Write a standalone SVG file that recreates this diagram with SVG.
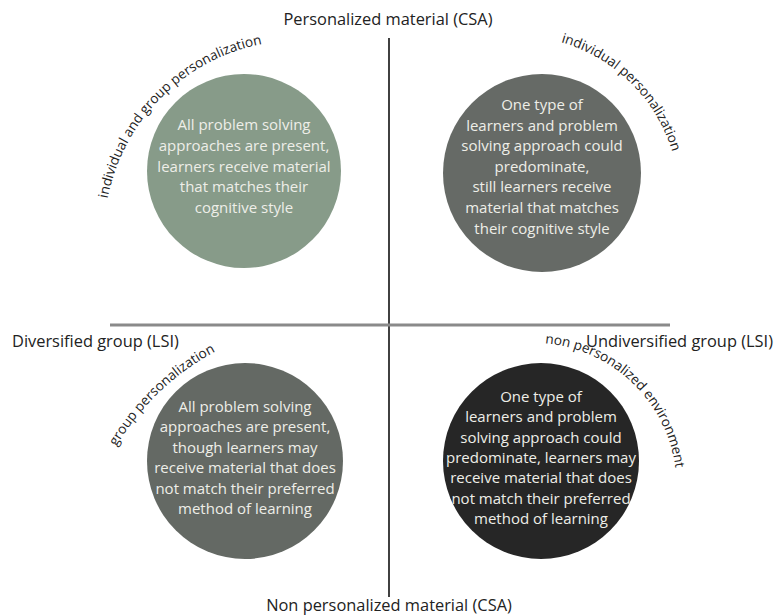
<svg xmlns="http://www.w3.org/2000/svg" width="775" height="616" viewBox="0 0 775 616">
<style>
  .axis-label { font-family: "Open Sans", Lato, sans-serif; font-size: 16.4px; fill: #222; }
  .arc-label { font-family: "Open Sans", Lato, sans-serif; font-size: 13.6px; fill: #222; }
  .inner { font-family: "Open Sans", Lato, sans-serif; font-size: 15px; fill: #eeeee8; text-anchor: middle; }
</style>
<defs>
  <path id="arcTL" d="M 107.6 198.6 A 196 196 0 0 1 290 40.5" fill="none"/>
  <path id="arcTR" d="M 561 42.2 A 163 163 0 0 1 678 180" fill="none"/>
  <path id="arcBL" d="M 116.2 446.5 A 255 255 0 0 1 240 340" fill="none"/>
  <path id="arcBR" d="M 545 343.3 A 144 144 0 0 1 676 500" fill="none"/>
</defs>
<rect width="775" height="616" fill="#ffffff"/>
<g id="connectors">
  <line x1="389" y1="38" x2="389" y2="597" stroke="#111" stroke-width="1.6"/>
  <line x1="110" y1="325" x2="670" y2="325" stroke="#8a8a8a" stroke-width="3"/>
</g>
<g id="axis-labels">
  <text class="axis-label" x="388" y="25" text-anchor="middle">Personalized material (CSA)</text>
  <text class="axis-label" x="389" y="611" text-anchor="middle">Non personalized material (CSA)</text>
  <text class="axis-label" x="12" y="347">Diversified group (LSI)</text>
  <text class="axis-label" x="773" y="347" text-anchor="end">Undiversified group (LSI)</text>
</g>
<g id="node-tl">
  <circle cx="244" cy="171" r="97" fill="#879b89"/>
  <text class="inner"><tspan x="244" y="130">All problem solving</tspan><tspan x="244" y="150.8">approaches are present,</tspan><tspan x="244" y="171.6">learners receive material</tspan><tspan x="244" y="192.4">that matches their</tspan><tspan x="244" y="213.2">cognitive style</tspan></text>
  <text class="arc-label"><textPath href="#arcTL">individual and group personalization</textPath></text>
</g>
<g id="node-tr">
  <circle cx="542" cy="173" r="99" fill="#666a66"/>
  <text class="inner"><tspan x="542" y="110">One type of</tspan><tspan x="542" y="130.6">learners and problem</tspan><tspan x="542" y="151.2">solving approach could</tspan><tspan x="542" y="171.8">predominate,</tspan><tspan x="542" y="192.4">still learners receive</tspan><tspan x="542" y="213">material that matches</tspan><tspan x="542" y="233.6">their cognitive style</tspan></text>
  <text class="arc-label"><textPath href="#arcTR">individual personalization</textPath></text>
</g>
<g id="node-bl">
  <circle cx="245" cy="461" r="98" fill="#646964"/>
  <text class="inner"><tspan x="245" y="411.5">All problem solving</tspan><tspan x="245" y="432">approaches are present,</tspan><tspan x="245" y="452.5">though learners may</tspan><tspan x="245" y="473">receive material that does</tspan><tspan x="245" y="493.5">not match their preferred</tspan><tspan x="245" y="514">method of learning</tspan></text>
  <text class="arc-label"><textPath href="#arcBL">group personalization</textPath></text>
</g>
<g id="node-br">
  <circle cx="541" cy="461" r="98" fill="#262626"/>
  <text class="inner"><tspan x="541" y="402">One type of</tspan><tspan x="541" y="422.3">learners and problem</tspan><tspan x="541" y="442.6">solving approach could</tspan><tspan x="541" y="462.9">predominate, learners may</tspan><tspan x="541" y="483.2">receive material that does</tspan><tspan x="541" y="503.5">not match their preferred</tspan><tspan x="541" y="523.8">method of learning</tspan></text>
  <text class="arc-label"><textPath href="#arcBR">non personalized environment</textPath></text>
</g>
</svg>
